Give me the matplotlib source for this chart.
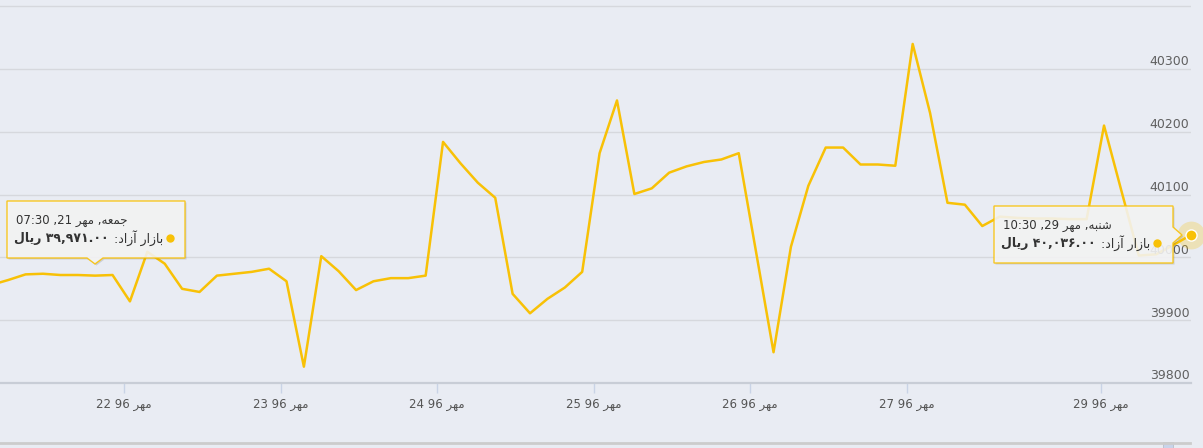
import numpy as np
import matplotlib
matplotlib.use('Agg')
import matplotlib.pyplot as plt
from matplotlib.patches import Polygon, Rectangle
from matplotlib.lines import Line2D

# قیمت بازار آزاد (ریال) - یک نقطه در هر نیم ساعت کاری
prices = [39956, 39964, 39973, 39974, 39972, 39972, 39971, 39972, 39930, 40009,
          39990, 39950, 39945, 39971, 39974, 39977, 39982, 39962, 39826, 40002,
          39978, 39948, 39962, 39967, 39967, 39971, 40184, 40150, 40119, 40095,
          39942, 39911, 39934, 39952, 39977, 40166, 40250, 40101, 40110, 40135,
          40145, 40152, 40156, 40166, 40008, 39849, 40017, 40114, 40175, 40175,
          40148, 40148, 40146, 40340, 40230, 40087, 40084, 40050, 40065, 40063,
          40062, 40062, 40061, 40061, 40210, 40106, 40003, 40005, 40020, 40036]
tick_pos = [7.66, 16.68, 25.64, 34.67, 43.63, 52.66, 63.8]
tick_days = [22, 23, 24, 25, 26, 27, 29]
y_grid = [39800, 39900, 40000, 40100, 40200, 40300, 40400]
y_labels = [39800, 39900, 40000, 40100, 40200, 40300]
month = 'مهر'
year = 96
# تولتیپ ها: اندیس نقطه، روز هفته، روز ماه، ساعت
tip1 = (6, 'جمعه', 21, '07:30')
tip2 = (69, 'شنبه', 29, '10:30')

W, H = 1203, 448
bg = '#E9ECF3'
gold = '#F8C106'

# شکل دهی حروف فارسی (matplotlib خودش حروف را نمی چسباند)
FORMS = {
    'ا': ('\uFE8D', '\uFE8E', None, None),
    'آ': ('\uFE81', '\uFE82', None, None),
    'ب': ('\uFE8F', '\uFE90', '\uFE91', '\uFE92'),
    'ج': ('\uFE9D', '\uFE9E', '\uFE9F', '\uFEA0'),
    'د': ('\uFEA9', '\uFEAA', None, None),
    'ر': ('\uFEAD', '\uFEAE', None, None),
    'ز': ('\uFEAF', '\uFEB0', None, None),
    'ش': ('\uFEB5', '\uFEB6', '\uFEB7', '\uFEB8'),
    'ع': ('\uFEC9', '\uFECA', '\uFECB', '\uFECC'),
    'ل': ('\uFEDD', '\uFEDE', '\uFEDF', '\uFEE0'),
    'م': ('\uFEE1', '\uFEE2', '\uFEE3', '\uFEE4'),
    'ن': ('\uFEE5', '\uFEE6', '\uFEE7', '\uFEE8'),
    'ه': ('\uFEE9', '\uFEEA', '\uFEEB', '\uFEEC'),
    'ی': ('\uFBFC', '\uFBFD', '\uFEF3', '\uFEF4'),
}


def fa(s):
    out = []
    for i, ch in enumerate(s):
        if ch not in FORMS:
            out.append(ch)
            continue
        prev = s[i - 1] if i > 0 else ''
        nxt = s[i + 1] if i + 1 < len(s) else ''
        jp = prev in FORMS and FORMS[prev][2] is not None
        jn = nxt in FORMS and FORMS[ch][2] is not None
        iso, fin, ini, med = FORMS[ch]
        if jp and jn:
            out.append(med)
        elif jp:
            out.append(fin)
        elif jn:
            out.append(ini)
        else:
            out.append(iso)
    return ''.join(out)[::-1]


fa_digits = str.maketrans('0123456789', '۰۱۲۳۴۵۶۷۸۹')


def P(x, y):
    return (x / W, 1 - y / H)


fig = plt.figure(figsize=(W / 100, H / 100), dpi=100, facecolor=bg)
ax = fig.add_axes([0, 65 / H, 1191 / W, 383 / H])
ax.set_facecolor(bg)

x = np.arange(len(prices))
ax.plot(x, prices, color=gold, lw=1.8, solid_joinstyle='round', zorder=3)
ax.plot(x[-1], prices[-1], 'o', ms=20, color=gold, alpha=0.25, mec='none', clip_on=False, zorder=4)
ax.plot(x[-1], prices[-1], 'o', ms=8, color=gold, mec='white', mew=1, clip_on=False, zorder=5)

ax.set_xlim(0.53, 69.0)
ax.set_ylim(39800, 40410)
ax.set_yticks(y_grid)
ax.yaxis.grid(True, color='#D6D8DD', lw=1)
ax.set_axisbelow(True)
ax.tick_params(axis='y', length=0, labelleft=False)
for s in ['top', 'left', 'right']:
    ax.spines[s].set_visible(False)
ax.spines['bottom'].set_color('#C8CDD6')
ax.spines['bottom'].set_linewidth(1.6)

ax.set_xticks(tick_pos)
ax.set_xticklabels(['%d %d %s' % (d, year, fa(month)) for d in tick_days])
ax.tick_params(axis='x', length=7.5, width=1, color='#C9D3E6', pad=3,
               labelsize=8.5, labelcolor='#555555')

for v in y_labels:
    ax.annotate(str(v), xy=(1, v), xycoords=('axes fraction', 'data'),
                xytext=(-1, 0.5), textcoords='offset points',
                ha='right', va='bottom', fontsize=9, color='#606060')

# پایین صفحه (نوار ناوبری)
fig.add_artist(Line2D([0, 1190 / W], [1 - 443 / H] * 2, color='#CCCCCC', lw=2))
fig.add_artist(Rectangle(P(1163, 448), 10 / W, 6 / H, facecolor='#C9D4EA',
                         edgecolor='#B8BEC8', lw=0.6, transform=fig.transFigure))

renderer = fig.canvas.get_renderer()


def tooltip(pts, info, x_left, y1, x_right, dot_x):
    idx, wd, day, hm = info
    shadow = [P(px + 1.5, py + 1.5) for px, py in pts]
    fig.add_artist(Polygon(shadow, closed=True, facecolor='#000000', alpha=0.12,
                           edgecolor='none', transform=fig.transFigure, zorder=9))
    fig.add_artist(Polygon([P(px, py) for px, py in pts], closed=True,
                           facecolor='#F7F7F7', alpha=0.88, edgecolor=gold, lw=1,
                           transform=fig.transFigure, zorder=10))
    line1 = '%s ,%d %s ,%s' % (hm, day, fa(month), fa(wd))
    fig.text(*P(x_left, y1), line1, ha='left', va='center', fontsize=8.5,
             color='#333333', zorder=11)
    # بخش عادی سمت راست، بخش پررنگ درست در چپ آن
    t = fig.text(*P(x_right, y1 + 18), ':' + fa('بازار آزاد'), ha='right', va='center',
                 fontsize=9, color='#333333', zorder=11)
    x0 = t.get_window_extent(renderer).x0
    val = format(prices[idx], ',.2f').translate(fa_digits)
    fig.text((x0 - 5) / W, P(0, y1 + 18)[1], fa('ریال') + ' ' + val, ha='right', va='center',
             fontsize=9, fontweight='bold', color='#333333', zorder=11)
    fig.add_artist(Line2D([P(dot_x, 0)[0]], [P(0, y1 + 18)[1]], marker='o', ms=5,
                          color=gold, lw=0, transform=fig.transFigure, zorder=11))


tooltip([(7, 201), (185, 201), (185, 258), (103, 258), (95, 264), (87, 258), (7, 258)],
        tip1, 16, 220, 163, 170)
tooltip([(994, 206), (1173, 206), (1173, 227), (1182, 235), (1173, 243), (1173, 263), (994, 263)],
        tip2, 1003, 225, 1150, 1157)

fig.savefig('out.png', dpi=100, facecolor=bg)
